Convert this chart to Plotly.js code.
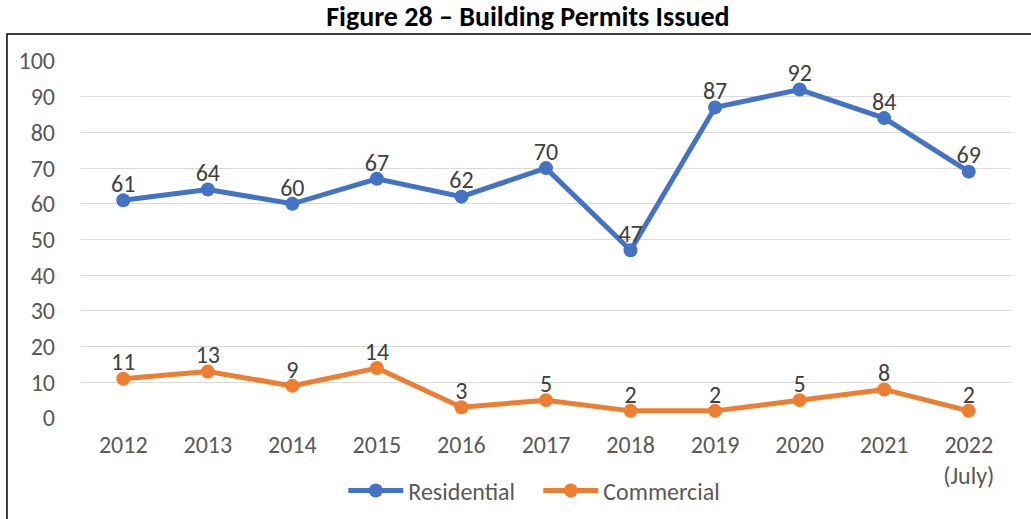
<!DOCTYPE html>
<html>
<head>
<meta charset="utf-8">
<script src="https://cdn.plot.ly/plotly-3.0.1.min.js"></script>
<style>
  body { margin: 0; background: #fff; }
  #chart { width: 1031px; height: 519px; }
</style>
</head>
<body>
<div id="chart"></div>
<script>
  const YEARS = ['2012', '2013', '2014', '2015', '2016', '2017', '2018', '2019', '2020', '2021', '2022<br>(July)'];
  const RESIDENTIAL = [61, 64, 60, 67, 62, 70, 47, 87, 92, 84, 69];
  const COMMERCIAL = [11, 13, 9, 14, 3, 5, 2, 2, 5, 8, 2];

  const FONT = 'Carlito, Calibri, "Liberation Sans Narrow", "Liberation Sans", sans-serif';

  function series(name, values, color) {
    return {
      x: YEARS,
      y: values,
      name: name,
      type: 'scatter',
      mode: 'lines+markers',
      line: { color: color, width: 5 },
      marker: { color: color, size: 14 },
      cliponaxis: false
    };
  }

  // labels sit closer to the points than plotly's default offset, so draw them separately
  function labels(values) {
    return {
      x: YEARS,
      y: values,
      type: 'scatter',
      mode: 'markers+text',
      text: values.map(String),
      textposition: 'top center',
      textfont: { family: FONT, size: 24, color: '#404040' },
      marker: { size: 2, color: 'rgba(0,0,0,0)' },
      showlegend: false,
      hoverinfo: 'skip',
      cliponaxis: false
    };
  }

  let traces = [
    series('Residential', RESIDENTIAL, '#4472C4'),
    series('Commercial', COMMERCIAL, '#ED7D31'),
    labels(RESIDENTIAL),
    labels(COMMERCIAL)
  ];

  let layout = {
    width: 1031,
    height: 519,
    margin: { l: 81, r: 20, t: 61, b: 101 },
    paper_bgcolor: '#fff',
    plot_bgcolor: '#fff',
    font: { family: FONT, color: '#595959', size: 24 },
    title: {
      text: '<b>Figure 28 – Building Permits Issued</b>',
      font: { family: FONT, size: 28, color: '#000' },
      x: 0.512, xanchor: 'center', xref: 'container',
      y: 0.968, yanchor: 'middle'
    },
    xaxis: {
      type: 'category',
      range: [-0.5, 10.5],
      showgrid: false,
      zeroline: false,
      showline: false,
      ticks: '',
      ticklabelstandoff: 10,
      tickfont: { family: FONT, size: 24, color: '#595959' }
    },
    yaxis: {
      range: [0, 100],
      dtick: 10,
      showgrid: true,
      gridcolor: '#d9d9d9',
      gridwidth: 1,
      zeroline: false,
      showline: false,
      ticks: '',
      ticklabelstandoff: 25,
      tickfont: { family: FONT, size: 24, color: '#595959' }
    },
    showlegend: true,
    legend: {
      orientation: 'h',
      xref: 'container', yref: 'container',
      x: 0.333, xanchor: 'left',
      y: 0.054, yanchor: 'middle',
      font: { family: FONT, size: 24, color: '#595959' },
      itemwidth: 55,
      entrywidth: 125
    },
    shapes: [{
      type: 'rect',
      xref: 'paper', yref: 'paper',
      x0: -0.0796, x1: 1.03,
      y0: -0.32, y1: 1.0756,
      line: { color: '#000', width: 1.5 },
      fillcolor: 'rgba(0,0,0,0)'
    }]
  };

  Plotly.newPlot('chart', traces, layout, { displayModeBar: false, staticPlot: true });
</script>
</body>
</html>
